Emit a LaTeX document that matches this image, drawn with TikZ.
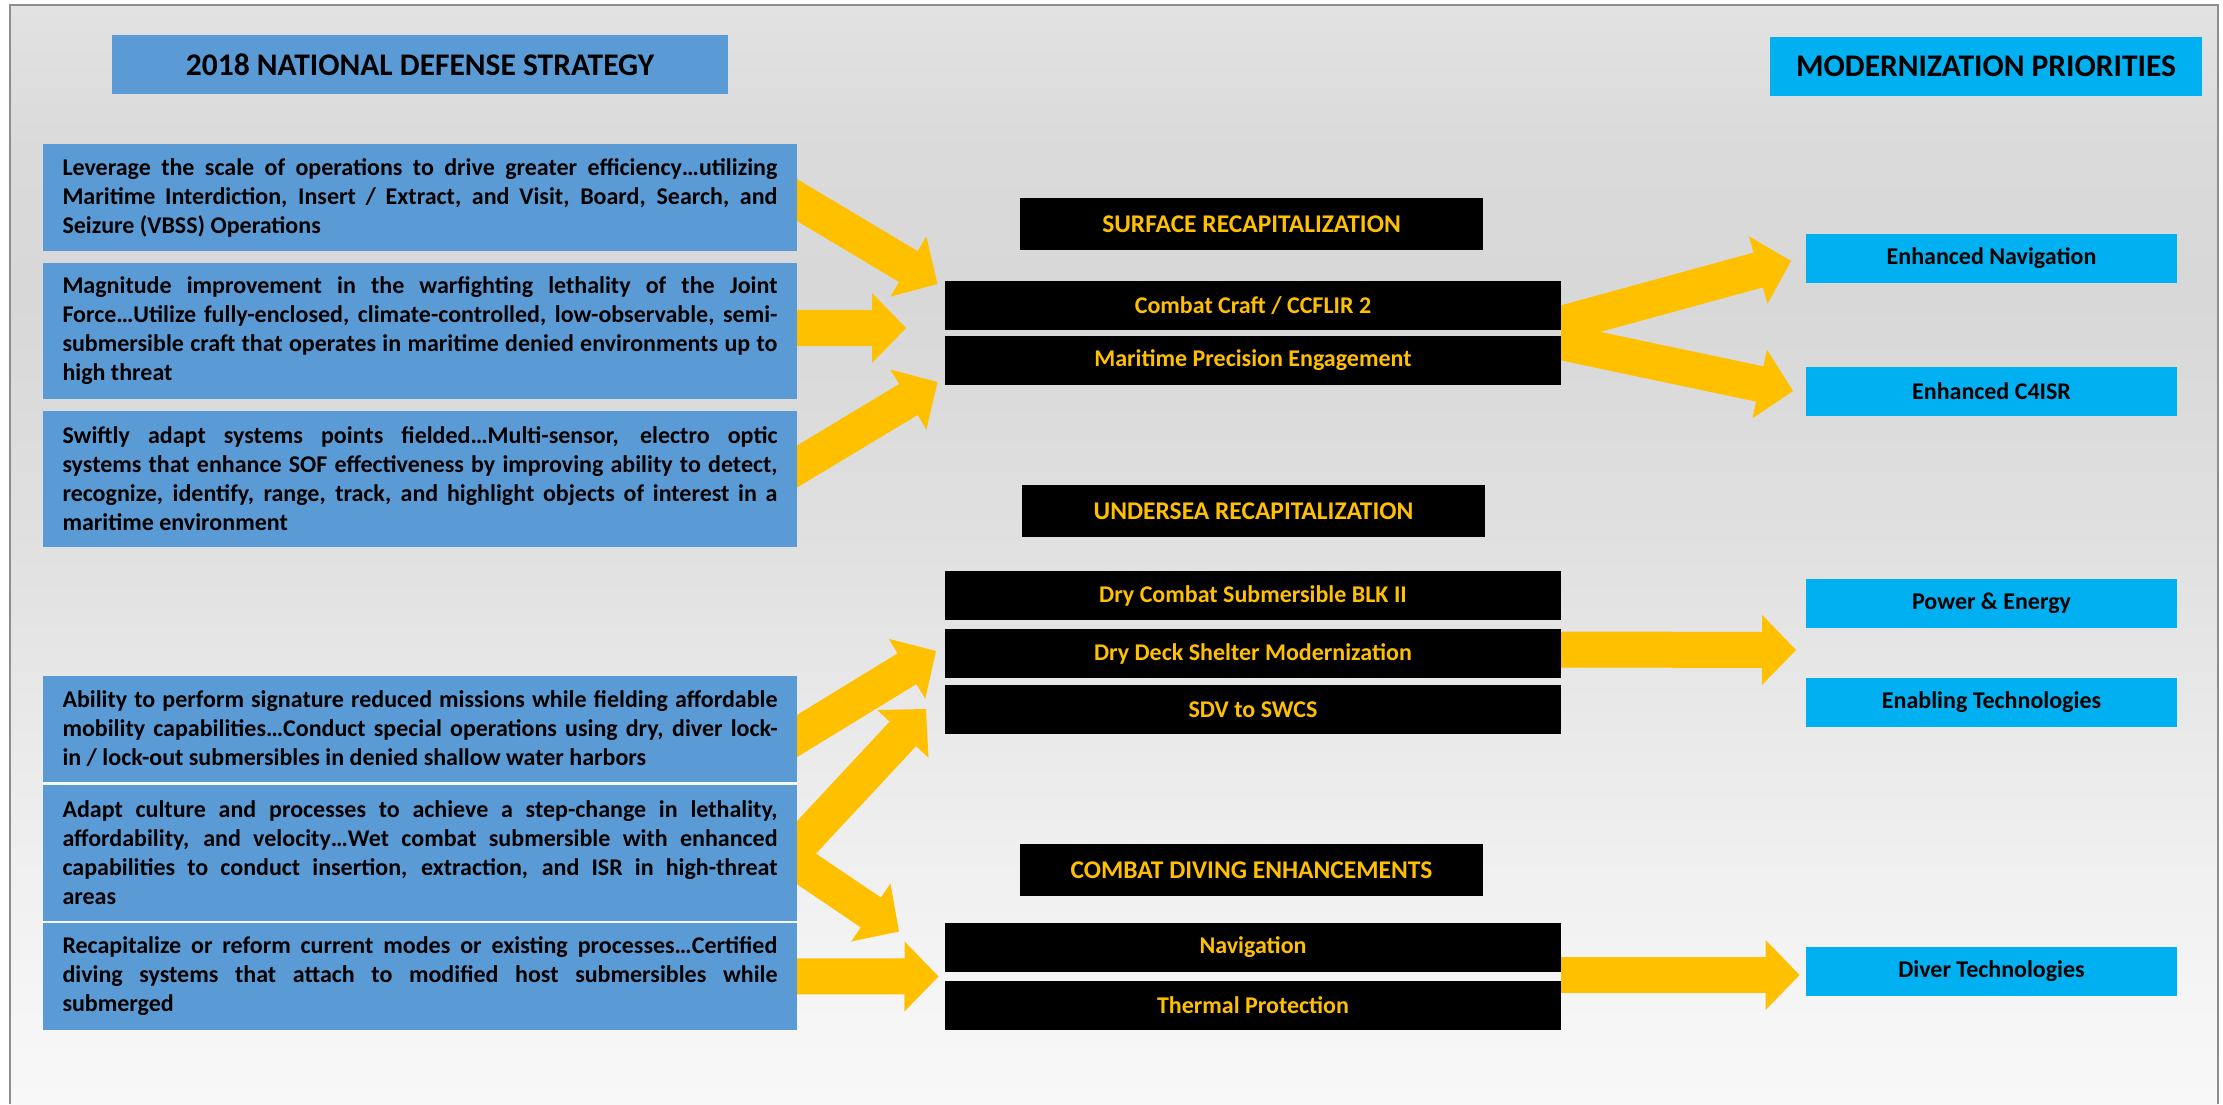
\documentclass[tikz,border=0pt]{standalone}
\usepackage{fontspec}
\setmainfont{Carlito}
\usetikzlibrary{calc}
\definecolor{ndsblue}{HTML}{5B9BD5}
\definecolor{modblue}{HTML}{00B0F0}
\definecolor{arrowgold}{HTML}{FFC000}
\definecolor{framegray}{HTML}{8E8E8E}
\definecolor{bgA}{HTML}{F8F8F8}
\definecolor{bgB}{HTML}{F5F5F5}
\definecolor{bgC}{HTML}{EBEBEB}
\definecolor{bgD}{HTML}{E3E3E3}
\definecolor{bgE}{HTML}{DDDDDD}
\definecolor{bgF}{HTML}{D8D8D8}
\definecolor{bgG}{HTML}{DADADA}
\definecolor{bgH}{HTML}{E2E2E2}
\pgfdeclareverticalshading{bgshade}{100bp}{color(0bp)=(bgA); color(25bp)=(bgA); color(30bp)=(bgB); color(40.6bp)=(bgC); color(48bp)=(bgD); color(54.3bp)=(bgE); color(61.6bp)=(bgF); color(68.4bp)=(bgG); color(75bp)=(bgH); color(100bp)=(bgH)}
\pgfdeclarelayer{back}
\pgfdeclarelayer{arrowlayer}
\pgfsetlayers{back,arrowlayer,main}
\newlength{\lw}\setlength{\lw}{715pt}
\newcommand{\nsp}{\spaceskip=0pt\xspaceskip=0pt\relax}
\newcommand{\jl}[1]{\makebox[\lw][s]{#1}}
\newcommand{\garrow}[2]{%
  \begin{scope}
    \clip ($(#1)+(0,-1200)$) rectangle ++(1500,2400);
    \path (#2) coordinate (gt) ($(#2)!34pt!(#1)$) coordinate (gb);
    \draw[arrowgold, line width=36pt, shorten <=-40pt] (#1) -- ($(gb)!1pt!(gt)$);
    \fill[arrowgold] (gt) -- ($(gb)!35pt!90:(gt)$) -- ($(gb)!35pt!-90:(gt)$) -- cycle;
  \end{scope}}
\tikzset{
  base/.style={anchor=north west, inner sep=0pt, outer sep=0pt, font=\bfseries\fontsize{24}{29}\selectfont},
  ndsbox/.style={base, fill=ndsblue, minimum width=754pt, text width=715pt, align=left},
  toptitle/.style={base, minimum height=59pt, font=\bfseries\fontsize{31.5}{36}\selectfont},
  blkhead/.style={base, fill=black, text=arrowgold, minimum width=463pt, minimum height=52pt, font=\bfseries\fontsize{25.5}{30}\selectfont},
  blkitem/.style={base, fill=black, text=arrowgold, minimum width=616pt, minimum height=49pt},
  bluebox/.style={base, fill=modblue, minimum width=371pt, minimum height=49pt},
}
\begin{document}
\begin{tikzpicture}[x=1pt,y=-1pt]
\useasboundingbox (0,0) rectangle (2223,1104);
\begin{pgfonlayer}{back}
  \fill[white] (0,0) rectangle (2223,1104);
  \shade[shading=bgshade] (10,5) rectangle (2218,1104);
  \draw[framegray, line width=2.5pt] (10,1104) -- (10,5) -- (2218,5) -- (2218,1104);
  \fill[white!97!black] (43,782) rectangle (797,923);
\end{pgfonlayer}

% titles
\node[toptitle, fill=ndsblue, minimum width=616pt] (ndstitle) at (112,35) {2018 NATIONAL DEFENSE STRATEGY};
\node[toptitle, fill=modblue, minimum width=432pt] (modtitle) at (1770,37) {MODERNIZATION PRIORITIES};

% left strategy boxes
\node[ndsbox, minimum height=107pt] (b1) at (43,144) {\nsp\jl{Leverage the scale of operations to drive greater efficiency…utilizing}\\\jl{Maritime Interdiction, Insert / Extract, and Visit, Board, Search, and}\\Seizure (VBSS) Operations};
\node[ndsbox, minimum height=136pt] (b2) at (43,263) {\nsp\jl{Magnitude improvement in the warfighting lethality of the Joint}\\\jl{Force…Utilize fully-enclosed, climate-controlled, low-observable, semi-}\\\jl{submersible craft that operates in maritime denied environments up to}\\high threat};
\node[ndsbox, minimum height=136pt] (b3) at (43,411) {\nsp\jl{Swiftly adapt systems points fielded…Multi-sensor, electro optic}\\\jl{systems that enhance SOF effectiveness by improving ability to detect,}\\\jl{recognize, identify, range, track, and highlight objects of interest in a}\\maritime environment};
\node[ndsbox, minimum height=106pt] (b4) at (43,676) {\nsp\jl{Ability to perform signature reduced missions while fielding affordable}\\\jl{mobility capabilities…Conduct special operations using dry, diver lock-}\\in / lock-out submersibles in denied shallow water harbors};
\node[ndsbox, minimum height=136pt] (b5) at (43,784.5) {\nsp\jl{Adapt culture and processes to achieve a step-change in lethality,}\\\jl{affordability, and velocity…Wet combat submersible with enhanced}\\\jl{capabilities to conduct insertion, extraction, and ISR in high-threat}\\areas};
\node[ndsbox, minimum height=106.5pt] (b6) at (43,923) {\nsp\jl{Recapitalize or reform current modes or existing processes…Certified}\\\jl{diving systems that attach to modified host submersibles while}\\submerged};

% middle headings
\node[blkhead] (surfhd) at (1020,198) {SURFACE RECAPITALIZATION};
\node[blkhead] (underhd) at (1022,485) {UNDERSEA RECAPITALIZATION};
\node[blkhead] (divehd) at (1020,844) {COMBAT DIVING ENHANCEMENTS};

% middle items
\node[blkitem] (combat) at (945,281) {Combat Craft / CCFLIR 2};
\node[blkitem] (maritime) at (945,336) {Maritime Precision Engagement};
\node[blkitem] (dcs) at (945,571) {Dry Combat Submersible BLK II};
\node[blkitem] (dds) at (945,629) {Dry Deck Shelter Modernization};
\node[blkitem] (sdv) at (945,685) {SDV to SWCS};
\node[blkitem] (nav) at (945,923) {Navigation};
\node[blkitem] (thermal) at (945,981) {Thermal Protection};

% right priorities
\node[bluebox] (enav) at (1806,234) {Enhanced Navigation};
\node[bluebox] (c4isr) at (1806,367) {Enhanced C4ISR};
\node[bluebox] (power) at (1806,579) {Power \& Energy};
\node[bluebox] (enabling) at (1806,678) {Enabling Technologies};
\node[bluebox] (diver) at (1806,947) {Diver Technologies};

% arrows
\begin{pgfonlayer}{arrowlayer}
  \coordinate (a1s) at ($(b1.east)+(0,2.5)$);
  \coordinate (a1t) at ($(combat.north west)+(-7.5,3)$);
  \garrow{a1s}{a1t}
  \coordinate (a2s) at ($(b2.east)+(0,-3)$);
  \coordinate (a2t) at ($(combat.south west)+(-39,-2)$);
  \garrow{a2s}{a2t}
  \coordinate (a3s) at ($(b3.east)+(0,-12.5)$);
  \coordinate (a3t) at ($(maritime.south west)+(-7.5,-3)$);
  \garrow{a3s}{a3t}
  \coordinate (a4s) at ($(b4.east)+(0,7)$);
  \coordinate (a4t) at ($(dds.west)+(-9,-2.5)$);
  \garrow{a4s}{a4t}
  \coordinate (a5s) at ($(b5.east)+(0,-5)$);
  \coordinate (a5t) at ($(sdv.west)+(-19,-0.5)$);
  \garrow{a5s}{a5t}
  \coordinate (a6s) at ($(b5.east)+(0,10)$);
  \coordinate (a6t) at ($(nav.north west)+(-46,8.5)$);
  \garrow{a6s}{a6t}
  \coordinate (a7s) at (b6.east);
  \coordinate (a7t) at ($(nav.south west)+(-6.5,4.5)$);
  \garrow{a7s}{a7t}
  \coordinate (sfork) at ($(combat.south east)!0.5!(maritime.north east)$);
  \coordinate (a8s) at ($(sfork)+(0,-9)$);
  \coordinate (a8t) at ($(enav.west)+(-15,2.5)$);
  \garrow{a8s}{a8t}
  \coordinate (a9s) at ($(sfork)+(0,9)$);
  \coordinate (a9t) at ($(c4isr.west)+(-13,-0.5)$);
  \garrow{a9s}{a9t}
  \coordinate (a10s) at ($(dds.east)+(0,-4)$);
  \coordinate (a10t) at ($(power.south west)+(-10,22)$);
  \garrow{a10s}{a10t}
  \coordinate (a11s) at ($(nav.south east)+(0,3)$);
  \coordinate (a11t) at ($(diver.west)+(-6.5,3.5)$);
  \garrow{a11s}{a11t}
\end{pgfonlayer}
\end{tikzpicture}
\end{document}
